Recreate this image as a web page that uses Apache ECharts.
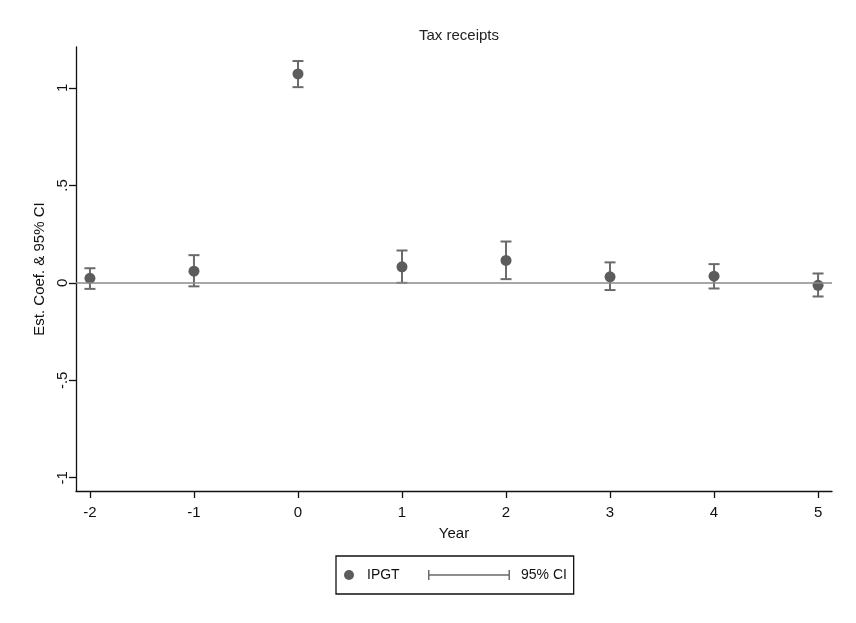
<!DOCTYPE html>
<html>
<head>
<meta charset="utf-8">
<script src="https://cdn.jsdelivr.net/npm/echarts@6/dist/echarts.min.js"></script>
<style>html,body{margin:0;padding:0;background:#fff;}#c{width:856px;height:623px;}</style>
</head>
<body>
<div id="c"></div>
<script>
var years = [-2, -1, 0, 1, 2, 3, 4, 5];
var coef = [0.023, 0.060, 1.072, 0.082, 0.115, 0.031, 0.034, -0.013];
var ciLow = [-0.031, -0.018, 1.004, 0.000, 0.019, -0.037, -0.029, -0.070];
var ciHigh = [0.075, 0.142, 1.138, 0.166, 0.212, 0.105, 0.096, 0.048];
var xTicks = [-2, -1, 0, 1, 2, 3, 4, 5];
var yTicks = [-1, -0.5, 0, 0.5, 1];
var yTickLabels = ['-1', '-.5', '0', '.5', '1'];

var pts = years.map(function (y, i) { return [y, coef[i]]; });
var ci = years.map(function (y, i) { return [y, ciLow[i], ciHigh[i]]; });

var chart = echarts.init(document.getElementById('c'), null, {renderer: 'canvas'});
var font = 'Liberation Sans, Arial, sans-serif';
var ciColor = '#6b6b6b';
chart.setOption({
  backgroundColor: '#ffffff',
  animation: false,
  title: {
    text: 'Tax receipts', left: 454, top: 23, textAlign: 'center',
    textStyle: {fontFamily: font, fontSize: 15, fontWeight: 'normal', color: '#222'}
  },
  grid: {left: 76, right: 24, top: 47, bottom: 132},
  xAxis: {
    type: 'value', min: -2.134, max: 5.134,
    name: 'Year', nameLocation: 'middle', nameGap: 35,
    nameTextStyle: {fontFamily: font, fontSize: 15, color: '#111'},
    axisLine: {onZero: false, lineStyle: {color: '#111', width: 1.3}},
    axisTick: {show: true, length: 7, customValues: xTicks, lineStyle: {color: '#111', width: 1.3}},
    axisLabel: {customValues: xTicks, fontFamily: font, fontSize: 15, color: '#111', margin: 14},
    splitLine: {show: false}
  },
  yAxis: {
    type: 'value', min: -1.068, max: 1.21,
    name: 'Est. Coef. & 95% CI', nameLocation: 'middle', nameGap: 27,
    nameTextStyle: {fontFamily: font, fontSize: 15, color: '#111'},
    axisLine: {show: true, onZero: false, lineStyle: {color: '#111', width: 1.3}},
    axisTick: {show: true, length: 7, customValues: yTicks, lineStyle: {color: '#111', width: 1.3}},
    axisLabel: {
      customValues: yTicks, rotate: 90, fontFamily: font, fontSize: 15, color: '#111', margin: 6,
      formatter: function (v) { var i = yTicks.indexOf(v); return i >= 0 ? yTickLabels[i] : ''; }
    },
    splitLine: {show: false}
  },
  legend: [
    {
      left: 336, top: 556, orient: 'horizontal',
      padding: [12, 174, 12, 8],
      borderColor: '#111', borderWidth: 1.3,
      textStyle: {fontFamily: font, fontSize: 14, color: '#111'},
      itemWidth: 10, itemHeight: 10,
      data: [
        {name: 'IPGT', icon: 'circle', itemStyle: {color: '#5c5c5c'}, textStyle: {padding: [0, 0, 0, 8]}}
      ]
    },
    {
      left: 428, top: 556, orient: 'horizontal',
      padding: [12, 0, 12, 0],
      textStyle: {fontFamily: font, fontSize: 14, color: '#111'},
      itemWidth: 82, itemHeight: 12,
      data: [
        {name: '95% CI', icon: 'path://M0,1h1.5v10h-1.5z M0,5.2h82v1.6h-82z M80.5,1h1.5v10h-1.5z',
         itemStyle: {color: ciColor}, textStyle: {padding: [0, 0, 0, 6]}}
      ]
    }
  ],
  series: [
    {
      name: '95% CI', type: 'custom', data: ci, z: 3,
      itemStyle: {color: ciColor},
      encode: {x: 0, y: [1, 2]},
      markLine: {
        silent: true, symbol: 'none', label: {show: false},
        lineStyle: {color: '#8a8a8a', width: 1.5, type: 'solid'},
        data: [{yAxis: 0}]
      },
      renderItem: function (params, api) {
        var x = api.value(0);
        var lo = api.coord([x, api.value(1)]);
        var hi = api.coord([x, api.value(2)]);
        var hw = 5.5;
        var st = {stroke: ciColor, lineWidth: 2};
        return {
          type: 'group',
          children: [
            {type: 'line', shape: {x1: lo[0], y1: lo[1], x2: hi[0], y2: hi[1]}, style: st},
            {type: 'line', shape: {x1: lo[0] - hw, y1: lo[1], x2: lo[0] + hw, y2: lo[1]}, style: st},
            {type: 'line', shape: {x1: hi[0] - hw, y1: hi[1], x2: hi[0] + hw, y2: hi[1]}, style: st}
          ]
        };
      }
    },
    {
      name: 'IPGT', type: 'scatter', data: pts, z: 4,
      symbol: 'circle', symbolSize: 11,
      itemStyle: {color: '#5c5c5c', opacity: 1}
    }
  ]
});
</script>
</body>
</html>
